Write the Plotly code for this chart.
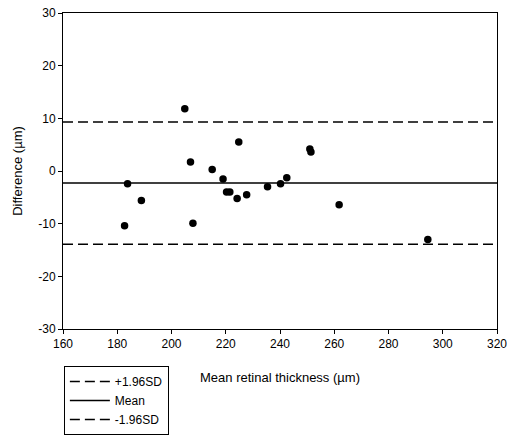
import plotly.graph_objects as go

# Mean retinal thickness (µm) and between-measurement difference (µm)
mean_thickness = [182.7, 183.8, 188.9, 204.9, 207.0, 207.9, 215.0, 219.0, 220.3, 221.5,
                  224.2, 224.8, 227.7, 235.4, 240.2, 242.5, 251.0, 251.4, 261.8, 294.5]
difference = [-10.4, -2.4, -5.6, 11.8, 1.7, -9.9, 0.3, -1.5, -4.0, -4.0,
              -5.2, 5.5, -4.5, -3.0, -2.4, -1.3, 4.2, 3.6, -6.4, -13.0]

# Limits of agreement
line_names = ["+1.96SD", "Mean", "-1.96SD"]
line_values = [9.3, -2.3, -13.9]
line_dashes = ["10px,5px", "solid", "10px,5px"]

x_range = [160, 320]
x_ticks = [160, 180, 200, 220, 240, 260, 280, 300, 320]
y_range = [-30, 30]
y_ticks = [-30, -20, -10, 0, 10, 20, 30]
y_tick_text = ["-30", "-20", "-10", "0", "10", "20", "30"]

fig = go.Figure()

for name, val, dash in zip(line_names, line_values, line_dashes):
    fig.add_trace(go.Scatter(
        x=x_range, y=[val, val], mode="lines", name=name,
        line=dict(color="black", width=1.5, dash=dash),
        hoverinfo="skip",
    ))

fig.add_trace(go.Scatter(
    x=mean_thickness, y=difference, mode="markers", showlegend=False,
    marker=dict(color="black", size=7.5, line=dict(width=0)),
))

font = "Liberation Sans, Arial, sans-serif"

fig.update_layout(
    width=507, height=437,
    margin=dict(l=63, r=10, t=13, b=108, autoexpand=False),
    paper_bgcolor="white", plot_bgcolor="white",
    font=dict(family=font, size=12, color="black"),
    showlegend=True,
    legend=dict(
        x=0.002, y=-0.117, xanchor="left", yanchor="top",
        bordercolor="black", borderwidth=1, bgcolor="white",
        font=dict(size=12), tracegroupgap=0, itemwidth=40,
    ),
    xaxis=dict(
        range=x_range, tickvals=x_ticks, ticks="outside", ticklen=4,
        tickcolor="black", showgrid=False, zeroline=False,
        showline=True, linecolor="black", linewidth=1, mirror=True,
        title=dict(text="Mean retinal thickness (µm)", font=dict(size=13), standoff=22),
        tickfont=dict(size=12), automargin=False, ticklabeloverflow="allow",
    ),
    yaxis=dict(
        range=y_range, tickvals=y_ticks, ticktext=y_tick_text,
        ticks="outside", ticklen=4,
        tickcolor="black", showgrid=False, zeroline=False,
        showline=True, linecolor="black", linewidth=1, mirror=True,
        title=dict(text="Difference (µm)", font=dict(size=13), standoff=12),
        tickfont=dict(size=12), automargin=False, ticklabeloverflow="allow",
    ),
)

fig.write_html("out.html")
